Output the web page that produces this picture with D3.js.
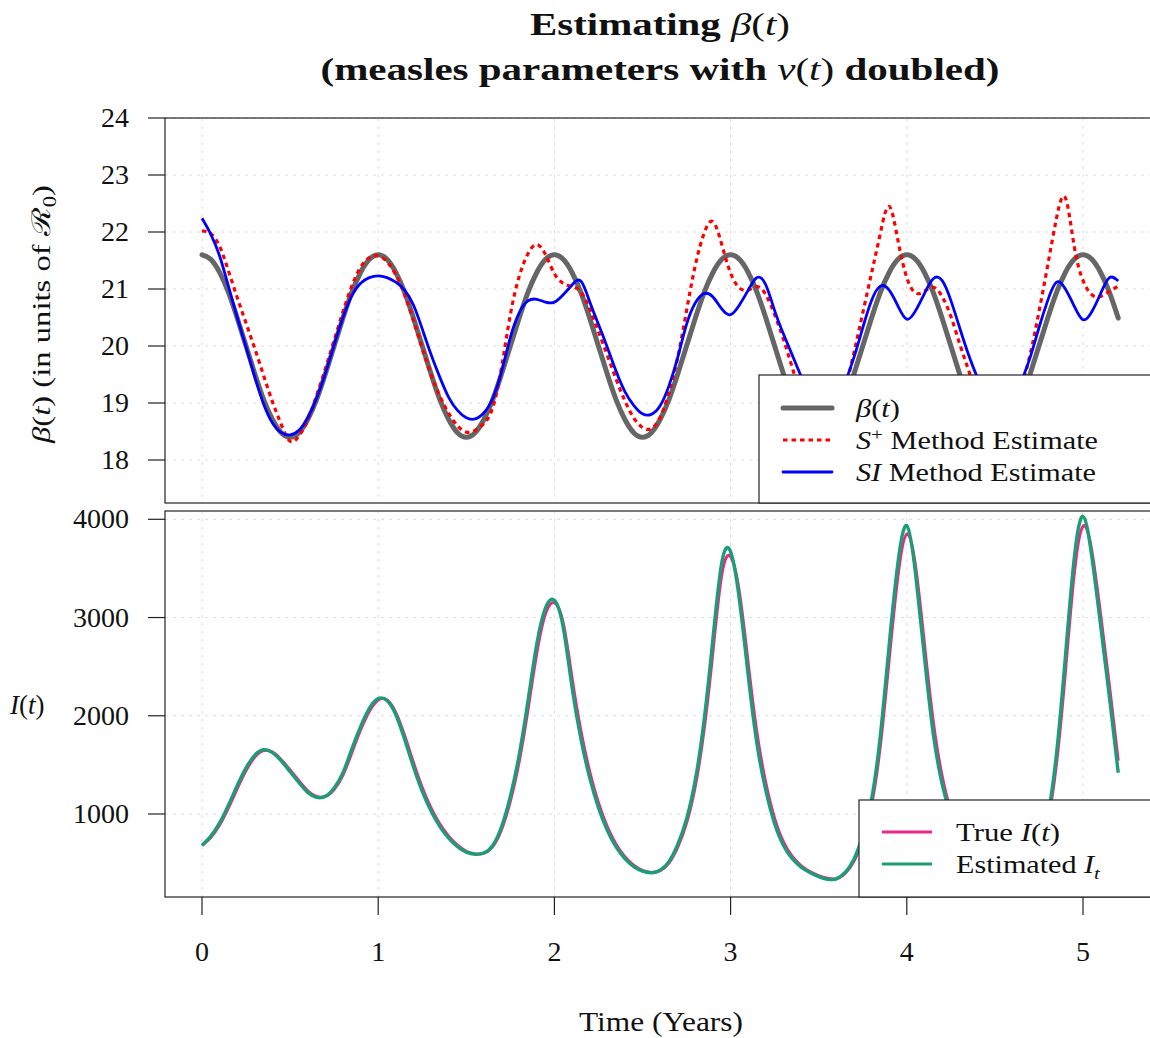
<!DOCTYPE html>
<html>
<head>
<meta charset="utf-8">
<title>Estimating beta(t)</title>
<script src="https://cdn.jsdelivr.net/npm/d3@7"></script>
<style>
  body { margin: 0; background: #fff; }
  text { font-family: "Liberation Serif", "Times New Roman", serif; fill: #111; }
</style>
</head>
<body>
<div id="chart"></div>
<script>
// sample times, every 0.05 years from 0 to 5.2
var years = d3.range(105).map(function (i) { return +(i * 0.05).toFixed(2); });

// beta(t) panel (one row per year)
var betaTrue = [
  21.60, 21.52, 21.29, 20.94, 20.49, 20.00, 19.51, 19.06, 18.71, 18.48, 18.40, 18.48, 18.71, 19.06, 19.51, 20.00, 20.49, 20.94, 21.29, 21.52,
  21.60, 21.52, 21.29, 20.94, 20.49, 20.00, 19.51, 19.06, 18.71, 18.48, 18.40, 18.48, 18.71, 19.06, 19.51, 20.00, 20.49, 20.94, 21.29, 21.52,
  21.60, 21.52, 21.29, 20.94, 20.49, 20.00, 19.51, 19.06, 18.71, 18.48, 18.40, 18.48, 18.71, 19.06, 19.51, 20.00, 20.49, 20.94, 21.29, 21.52,
  21.60, 21.52, 21.29, 20.94, 20.49, 20.00, 19.51, 19.06, 18.71, 18.48, 18.40, 18.48, 18.71, 19.06, 19.51, 20.00, 20.49, 20.94, 21.29, 21.52,
  21.60, 21.52, 21.29, 20.94, 20.49, 20.00, 19.51, 19.06, 18.71, 18.48, 18.40, 18.48, 18.71, 19.06, 19.51, 20.00, 20.49, 20.94, 21.29, 21.52,
  21.60, 21.52, 21.29, 20.94, 20.49
];
var betaSplus = [
  22.02, 21.97, 21.75, 21.32, 20.85, 20.40, 19.95, 19.48, 19.02, 18.62, 18.33, 18.42, 18.70, 19.13, 19.60, 20.10, 20.60, 21.05, 21.38, 21.55,
  21.58, 21.48, 21.25, 20.90, 20.45, 19.96, 19.50, 19.12, 18.82, 18.60, 18.49, 18.52, 18.64, 18.92, 19.62, 20.55, 21.22, 21.62, 21.78, 21.60,
  21.27, 21.10, 21.04, 20.95, 20.65, 20.25, 19.84, 19.42, 19.04, 18.74, 18.57, 18.55, 18.75, 19.18, 19.80, 20.62, 21.42, 21.98, 22.18, 21.78,
  21.28, 21.02, 20.98, 21.04, 20.90, 20.55, 20.12, 19.62, 19.13, 18.76, 18.56, 18.55, 18.78, 19.25, 19.88, 20.58, 21.28, 21.98, 22.45, 21.85,
  21.20, 20.93, 20.96, 21.03, 20.87, 20.52, 20.04, 19.58, 19.12, 18.77, 18.57, 18.57, 18.80, 19.28, 19.85, 20.60, 21.42, 22.25, 22.60, 21.75,
  21.15, 20.90, 20.87, 20.96, 21.05
];
var betaSI = [
  22.24, 21.96, 21.58, 21.05, 20.50, 19.98, 19.45, 18.98, 18.65, 18.48, 18.44, 18.52, 18.74, 19.08, 19.52, 20.02, 20.50, 20.88, 21.10, 21.20,
  21.23, 21.20, 21.12, 20.98, 20.72, 20.30, 19.85, 19.45, 19.10, 18.87, 18.74, 18.72, 18.83, 19.08, 19.55, 20.15, 20.58, 20.79, 20.82, 20.77,
  20.77, 20.90, 21.07, 21.14, 20.78, 20.38, 19.98, 19.56, 19.20, 18.96, 18.81, 18.80, 18.95, 19.30, 19.80, 20.38, 20.76, 20.92, 20.86, 20.65,
  20.55, 20.72, 20.98, 21.20, 21.07, 20.62, 20.21, 19.84, 19.47, 19.15, 18.95, 18.90, 19.02, 19.36, 19.80, 20.32, 20.80, 21.05, 20.98, 20.70,
  20.47, 20.62, 20.92, 21.18, 21.15, 20.80, 20.32, 19.85, 19.45, 19.14, 18.96, 18.92, 19.05, 19.38, 19.80, 20.32, 20.80, 21.12, 21.00, 20.70,
  20.46, 20.60, 20.92, 21.20, 21.14
];

// I(t) panel
var infTrue = [
  680, 762, 888, 1062, 1258, 1442, 1580, 1646, 1630, 1553, 1448, 1338, 1236, 1178, 1178, 1250, 1395, 1622, 1855, 2045,
  2160, 2160, 2033, 1800, 1525, 1270, 1062, 897, 774, 682, 621, 594, 601, 668, 840, 1130, 1533, 2062, 2637, 3040,
  3150, 2945, 2388, 1853, 1434, 1114, 872, 692, 564, 478, 425, 405, 424, 501, 662, 908, 1286, 1862, 2657, 3437,
  3620, 3258, 2533, 1822, 1315, 955, 715, 567, 474, 414, 373, 346, 340, 395, 518, 742, 1091, 1696, 2573, 3425,
  3850, 3520, 2734, 1945, 1392, 1033, 787, 616, 493, 408, 353, 322, 320, 354, 444, 620, 927, 1518, 2443, 3440,
  3930, 3680, 3032, 2307, 1543
];
var infEst = [
  680, 775, 910, 1090, 1290, 1470, 1600, 1655, 1625, 1540, 1430, 1320, 1220, 1170, 1180, 1265, 1420, 1660, 1890, 2075,
  2175, 2155, 2010, 1760, 1480, 1230, 1030, 872, 755, 668, 612, 590, 603, 680, 870, 1180, 1600, 2150, 2730, 3100,
  3175, 2900, 2290, 1770, 1370, 1065, 835, 665, 545, 465, 418, 402, 428, 515, 690, 950, 1350, 1960, 2790, 3560,
  3670, 3180, 2410, 1710, 1240, 900, 680, 545, 460, 405, 362, 335, 340, 405, 540, 780, 1150, 1800, 2720, 3560,
  3935, 3440, 2600, 1820, 1310, 980, 750, 590, 475, 395, 345, 318, 320, 360, 460, 650, 980, 1620, 2600, 3600,
  4030, 3620, 2920, 2190, 1420
];

var yearTicks = [0, 1, 2, 3, 4, 5];
var betaTicks = [18, 19, 20, 21, 22, 23, 24];
var infTicks = [1000, 2000, 3000, 4000];

var W = 1150, H = 1038;
var svg = d3.select("#chart").append("svg").attr("width", W).attr("height", H);
svg.append("rect").attr("width", W).attr("height", H).attr("fill", "#fff");

var x = d3.scaleLinear().domain([0, 5]).range([202, 1083]);
var left = 165, right = 1160;
var yBeta = d3.scaleLinear().domain([18, 24]).range([460, 118]);
var yInf = d3.scaleLinear().domain([1000, 4000]).range([814, 519.3]);

var panels = [
  { y: yBeta, top: 118, bottom: 503, ticks: betaTicks, id: "clipTop" },
  { y: yInf, top: 511, bottom: 897, ticks: infTicks, id: "clipBot" }
];

var defs = svg.append("defs");
panels.forEach(function (p) {
  defs.append("clipPath").attr("id", p.id).append("rect")
    .attr("x", left).attr("y", p.top).attr("width", right - left).attr("height", p.bottom - p.top);

  // grid
  var g = svg.append("g").attr("stroke", "#dcdcdc").attr("stroke-width", 1).attr("stroke-dasharray", "3,5");
  yearTicks.forEach(function (t) {
    g.append("line").attr("x1", x(t)).attr("x2", x(t)).attr("y1", p.top).attr("y2", p.bottom);
  });
  p.ticks.forEach(function (v) {
    g.append("line").attr("x1", left).attr("x2", right).attr("y1", p.y(v)).attr("y2", p.y(v));
  });

  // left ticks and labels
  p.ticks.forEach(function (v) {
    svg.append("line").attr("x1", 148).attr("x2", left).attr("y1", p.y(v)).attr("y2", p.y(v))
      .attr("stroke", "#222").attr("stroke-width", 1.2);
    svg.append("text").attr("x", 129).attr("y", p.y(v) + 9).attr("text-anchor", "end")
      .style("font-size", "28px").text(v);
  });
});

function pts(vals) { return years.map(function (t, i) { return [t, vals[i]]; }); }
function lineFor(y) {
  return d3.line().x(function (d) { return x(d[0]); }).y(function (d) { return y(d[1]); })
    .curve(d3.curveNatural);
}

// top panel curves
var gTop = svg.append("g").attr("clip-path", "url(#clipTop)").attr("fill", "none");
gTop.append("path").attr("d", lineFor(yBeta)(pts(betaTrue)))
  .attr("stroke", "#666666").attr("stroke-width", 5).attr("stroke-linecap", "round");
gTop.append("path").attr("d", lineFor(yBeta)(pts(betaSplus)))
  .attr("stroke", "#ff0000").attr("stroke-width", 3.2).attr("stroke-dasharray", "4.5,4");
gTop.append("path").attr("d", lineFor(yBeta)(pts(betaSI)))
  .attr("stroke", "#0000ff").attr("stroke-width", 2.8);

// bottom panel curves
var gBot = svg.append("g").attr("clip-path", "url(#clipBot)").attr("fill", "none");
gBot.append("path").attr("d", lineFor(yInf)(pts(infTrue)))
  .attr("stroke", "#e7298a").attr("stroke-width", 3);
gBot.append("path").attr("d", lineFor(yInf)(pts(infEst)))
  .attr("stroke", "#1b9e77").attr("stroke-width", 3.4);

// panel frames
panels.forEach(function (p) {
  svg.append("rect").attr("x", left).attr("y", p.top).attr("width", right - left).attr("height", p.bottom - p.top)
    .attr("fill", "none").attr("stroke", "#222").attr("stroke-width", 1.2);
});

// x axis ticks and labels
yearTicks.forEach(function (t) {
  svg.append("line").attr("x1", x(t)).attr("x2", x(t)).attr("y1", 897).attr("y2", 915)
    .attr("stroke", "#222").attr("stroke-width", 1.2);
  svg.append("text").attr("x", x(t)).attr("y", 961).attr("text-anchor", "middle")
    .style("font-size", "28px").text(t);
});

// helper for mixed roman / italic text
function rich(sel, parts) {
  parts.forEach(function (p) {
    var s = sel.append("tspan").text(p[0]);
    if (p[1] === "i") s.style("font-style", "italic");
    if (p[1] === "b") s.style("font-weight", "bold");
    if (p[1] === "sup") s.attr("dy", -9).style("font-size", "70%");
    if (p[1] === "sub") s.attr("dy", 6).style("font-size", "70%");
    if (p[1] === "subi") s.attr("dy", 6).style("font-size", "70%").style("font-style", "italic");
    if (p[2] !== undefined) s.attr("dy", p[2]);
  });
}

// titles
var t1 = svg.append("text").attr("x", 660).attr("y", 35).attr("text-anchor", "middle")
  .style("font-size", "31px").attr("textLength", 260).attr("lengthAdjust", "spacingAndGlyphs");
rich(t1, [["Estimating ", "b"], ["\u03B2", "i"], ["("], ["t", "i"], [")"]]);
var t2 = svg.append("text").attr("x", 660).attr("y", 80).attr("text-anchor", "middle")
  .style("font-size", "31px").attr("textLength", 679).attr("lengthAdjust", "spacingAndGlyphs");
rich(t2, [["(measles parameters with ", "b"], ["\u03BD", "i"], ["("], ["t", "i"], [")"], [" doubled)", "b"]]);

// axis titles
var yl = svg.append("text").attr("transform", "translate(50,314) rotate(-90)").attr("text-anchor", "middle")
  .style("font-size", "26px").attr("textLength", 258).attr("lengthAdjust", "spacingAndGlyphs");
rich(yl, [["\u03B2", "i"], ["("], ["t", "i"], [") (in units of "], ["\u211B"], ["0", "sub"], [")", null, -6]]);

var il = svg.append("text").attr("x", 10).attr("y", 714).style("font-size", "27px");
rich(il, [["I", "i"], ["("], ["t", "i"], [")"]]);

svg.append("text").attr("x", 661).attr("y", 1031).attr("text-anchor", "middle")
  .style("font-size", "27px").attr("textLength", 164).attr("lengthAdjust", "spacingAndGlyphs")
  .text("Time (Years)");

// top legend
var lg1 = svg.append("g");
lg1.append("rect").attr("x", 759).attr("y", 375).attr("width", 420).attr("height", 128)
  .attr("fill", "#fff").attr("stroke", "#222").attr("stroke-width", 1.2);
var legTop = [
  { y: 408, stroke: "#666666", w: 5, dash: null, parts: [["\u03B2", "i"], ["("], ["t", "i"], [")"]], len: 44 },
  { y: 440, stroke: "#ff0000", w: 3.2, dash: "4.5,4", parts: [["S", "i"], ["+", "sup"], [" Method Estimate", null, 9]], len: 242 },
  { y: 472, stroke: "#0000ff", w: 2.8, dash: null, parts: [["SI", "i"], [" Method Estimate"]], len: 240 }
];
legTop.forEach(function (d) {
  lg1.append("line").attr("x1", 783).attr("x2", 832).attr("y1", d.y).attr("y2", d.y)
    .attr("stroke", d.stroke).attr("stroke-width", d.w).attr("stroke-dasharray", d.dash)
    .attr("stroke-linecap", d.dash ? "butt" : "round");
  var tx = lg1.append("text").attr("x", 856).attr("y", d.y + 9).style("font-size", "25px")
    .attr("textLength", d.len).attr("lengthAdjust", "spacingAndGlyphs");
  rich(tx, d.parts);
});

// bottom legend
var lg2 = svg.append("g");
lg2.append("rect").attr("x", 859).attr("y", 800).attr("width", 320).attr("height", 97)
  .attr("fill", "#fff").attr("stroke", "#222").attr("stroke-width", 1.2);
var legBot = [
  { y: 832, stroke: "#e7298a", parts: [["True "], ["I", "i"], ["("], ["t", "i"], [")"]], len: 104 },
  { y: 864, stroke: "#1b9e77", parts: [["Estimated "], ["I", "i"], ["t", "subi"]], len: 144 }
];
legBot.forEach(function (d) {
  lg2.append("line").attr("x1", 882).attr("x2", 932).attr("y1", d.y).attr("y2", d.y)
    .attr("stroke", d.stroke).attr("stroke-width", 3);
  var tx = lg2.append("text").attr("x", 956).attr("y", d.y + 9).style("font-size", "25px")
    .attr("textLength", d.len).attr("lengthAdjust", "spacingAndGlyphs");
  rich(tx, d.parts);
});
</script>
</body>
</html>
